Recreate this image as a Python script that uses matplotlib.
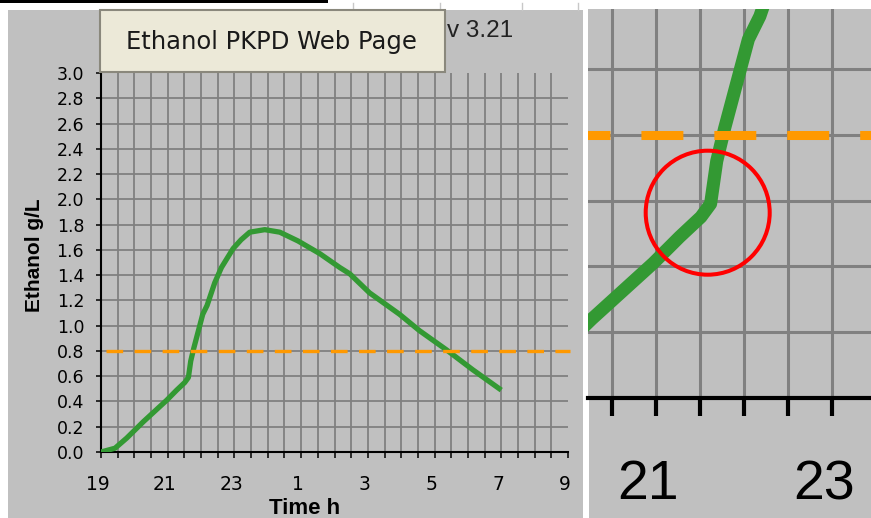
import numpy as np
import matplotlib
matplotlib.use("Agg")
import matplotlib.pyplot as plt
from matplotlib.patches import Rectangle, Ellipse
from matplotlib.transforms import ScaledTranslation

# ==========================================
# DATA
# ==========================================

# time in hours from 19:00 (values > 24 = next day)
time_h = [19.0, 19.42, 19.77, 20.27, 20.97, 21.27, 21.51, 21.62, 21.69,
          21.78, 21.92, 22.05, 22.18, 22.41, 22.61, 22.96, 23.2, 23.46,
          23.91, 24.36, 24.91, 25.56, 26.16, 26.46, 27.05, 27.95, 28.55,
          29.35, 30.15, 31.0]
ethanol = [0.0, 0.03, 0.11, 0.24, 0.41, 0.49, 0.55, 0.59, 0.72,
           0.82, 0.96, 1.09, 1.16, 1.34, 1.46, 1.61, 1.68, 1.74,
           1.76, 1.74, 1.67, 1.57, 1.46, 1.41, 1.26, 1.09, 0.96,
           0.81, 0.65, 0.49]

limit = 0.8

hour_ticks = [19, 21, 23, 25, 27, 29, 31, 33]
hour_labels = ["19", "21", "23", "1", "3", "5", "7", "9"]

zoom_ticks = [21, 23]
zoom_labels = ["21", "23"]

# ==========================================
# STYLE
# ==========================================

W, H = 871, 518
BG = "#c0c0c0"
GRID = "#808080"
GREEN = "#339933"
ORANGE = "#ff9900"

plt.rcParams["font.family"] = ["DejaVu Sans"]
plt.rcParams["lines.scale_dashes"] = False


def fx(px):
    return px / W


def fy(py):
    return 1 - py / H


fig = plt.figure(figsize=(W / 100, H / 100), dpi=100, facecolor="white")

# grey panels
fig.add_artist(Rectangle((fx(8), 0), (583 - 8) / W, (H - 10) / H,
                         transform=fig.transFigure, facecolor=BG,
                         edgecolor="none", zorder=0))
fig.add_artist(Rectangle((fx(589), 0), (W - 589) / W, (H - 9) / H,
                         transform=fig.transFigure, facecolor=BG,
                         edgecolor="none", zorder=0))

# spreadsheet strip on top
fig.add_artist(Rectangle((0, fy(3)), 328 / W, 3 / H,
                         transform=fig.transFigure, facecolor="black",
                         edgecolor="none"))
for col in [353, 440, 522, 578]:
    fig.add_artist(plt.Line2D([fx(col), fx(col)], [fy(10), fy(3)],
                              transform=fig.transFigure, color="#c8c8c8",
                              lw=1))

# ==========================================
# LEFT CHART
# ==========================================

ax = fig.add_axes([fx(101), fy(452), (568 - 101) / W, (452 - 73) / H])
ax.set_facecolor(BG)
ax.set_xlim(19, 33)
ax.set_ylim(0, 3.0)

half_hours = np.arange(19, 33.01, 0.5)
ax.set_xticks(half_hours)
ax.set_xticklabels([hour_labels[hour_ticks.index(t)] if t in hour_ticks else ""
                    for t in half_hours])
yt = np.arange(0, 3.01, 0.2)
ax.set_yticks(yt)
ax.set_yticklabels([f"{v:.1f}" for v in yt])

ax.set_axisbelow(True)
ax.grid(True, color=GRID, lw=1.3)
ax.xaxis.get_gridlines()[-1].set_visible(False)
ax.yaxis.get_gridlines()[-1].set_visible(False)

for s in ["top", "right"]:
    ax.spines[s].set_visible(False)
for s in ["left", "bottom"]:
    ax.spines[s].set_linewidth(1.5)
    ax.spines[s].set_color("black")

ax.tick_params(axis="x", direction="out", length=4.3, width=1.1,
               pad=12.5, labelsize=13.5, colors="black")
ax.tick_params(axis="y", direction="out", length=3.6, width=1.1,
               pad=8.5, labelsize=12.5, colors="black")
for lab in ax.get_xticklabels():
    lab.set_transform(lab.get_transform() +
                      ScaledTranslation(-3 / 100, 0, fig.dpi_scale_trans))

ax.plot(time_h, ethanol, color=GREEN, lw=3.8, solid_capstyle="butt",
        zorder=3)
ax.plot([19.15, 33.07], [limit, limit], color=ORANGE, lw=2.4,
        dashes=(12, 8.2), clip_on=False, zorder=4)

fig.text(fx(35), fy(255), "Ethanol g/L", rotation=90, ha="center",
         va="center", fontsize=15, fontweight="bold",
         family="Liberation Sans")
fig.text(fx(305), fy(514), "Time h", ha="center", va="baseline",
         fontsize=16, fontweight="bold", family="Liberation Sans")

# button + version
fig.add_artist(Rectangle((fx(100), fy(72)), 345 / W, 62 / H,
                         transform=fig.transFigure, facecolor="#ece9d8",
                         edgecolor="#8a887c", lw=1.5, zorder=5))
fig.text(fx(271), fy(42), "Ethanol PKPD Web Page", ha="center",
         va="center", fontsize=17.5, color="#1a1a1a", zorder=6)
fig.text(fx(447), fy(31), "v 3.21", ha="left", va="center",
         fontsize=17.5, color="#222222", family="Liberation Sans")

# ==========================================
# RIGHT ZOOM
# ==========================================

az = fig.add_axes([fx(588), fy(398), (W - 588) / W, (398 - 9) / H])
az.set_facecolor(BG)
az.set_xlim(20.227, 23.443)
az.set_ylim(0, 1.182)

zoom_half = np.arange(20.5, 23.01, 0.5)
az.set_xticks(zoom_half)
az.set_xticklabels([zoom_labels[zoom_ticks.index(t)] if t in zoom_ticks else ""
                    for t in zoom_half])
az.set_yticks([0.2, 0.4, 0.6, 0.8, 1.0])
az.set_yticklabels([])

az.set_axisbelow(True)
az.grid(True, color=GRID, lw=2.2)
for s in ["top", "right", "left"]:
    az.spines[s].set_visible(False)
az.spines["bottom"].set_linewidth(3)
az.spines["bottom"].set_color("black")

az.tick_params(axis="x", direction="out", length=13, width=3, pad=31,
               labelsize=40, colors="black")
az.tick_params(axis="y", length=0)
for lab in az.get_xticklabels():
    lab.set_family("Liberation Sans")
    lab.set_transform(lab.get_transform() +
                      ScaledTranslation(-8 / 100, 0, fig.dpi_scale_trans))

az.plot(time_h, ethanol, color=GREEN, lw=9.4, solid_capstyle="butt",
        zorder=3)
az.plot([20.0, 24.0], [limit, limit], color=ORANGE, lw=6.5,
        dashes=(30.2, 22.3), zorder=4)

fig.add_artist(Ellipse((fx(707.7), fy(212.7)), 124 / W, 124 / H,
                       transform=fig.transFigure, fill=False,
                       edgecolor="#ff0000", lw=2.9, zorder=10))

fig.savefig("out.png", dpi=100, facecolor=fig.get_facecolor())
